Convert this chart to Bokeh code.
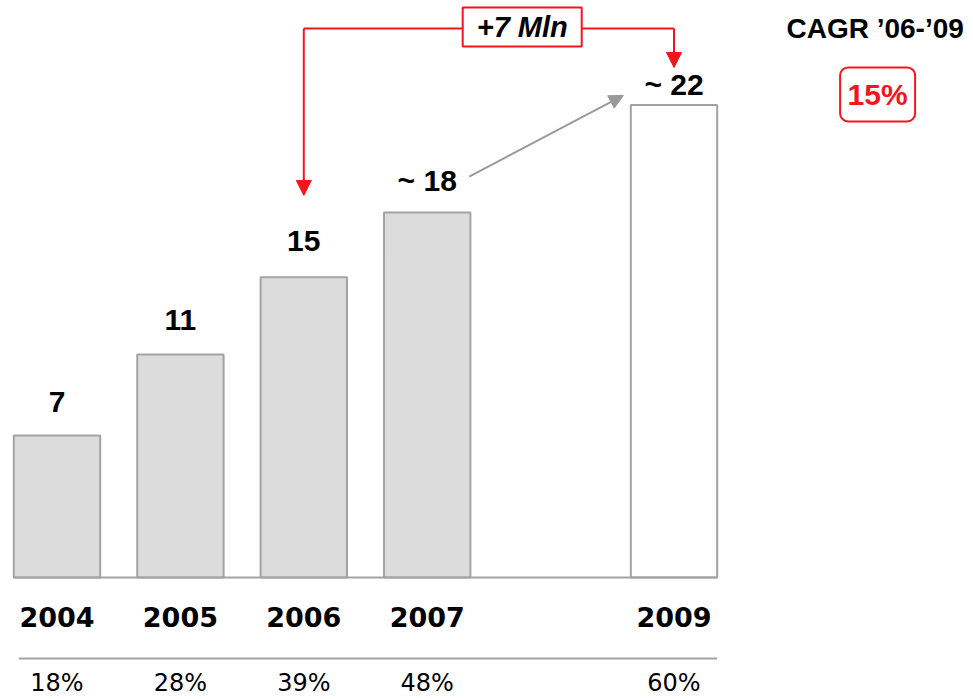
from bokeh.plotting import figure
from bokeh.models import Range1d, Arrow, NormalHead, ColumnDataSource
from bokeh.core.properties import value
from bokeh.embed import file_html
from bokeh.resources import INLINE

# ---- data ----
years = [2004, 2005, 2006, 2007, 2009]
year_labels = ["2004", "2005", "2006", "2007", "2009"]
market = [7, 11, 14.8, 18, 23.3]
value_labels = ["7", "11", "15", "~ 18", "~ 22"]
share_labels = ["18%", "28%", "39%", "48%", "60%"]
estimated = [False, False, False, False, True]
cagr_title = "CAGR \u201906-\u201909"
cagr_value = "15%"
delta_label = "+7 Mln"

# ---- styles ----
RED = "#f5141b"
GREY = "#a3a3a3"
BAR_FILL = "#dcdcdc"
bar_w = 0.70
px_per_year = 123.4
px_per_unit = 20.28

src = ColumnDataSource(dict(
    x=years,
    top=market,
    vlabel=value_labels,
    ylabel=year_labels,
    share=share_labels,
    fill=["#ffffff" if e else BAR_FILL for e in estimated],
    voff=[-34, -34, -36, -32, -20],
))

x0 = years[0] - 56.5 / px_per_year
y0 = -(699 - 577) / px_per_unit
p = figure(width=973, height=699,
           x_range=Range1d(x0, x0 + 973 / px_per_year),
           y_range=Range1d(y0, y0 + 699 / px_per_unit),
           output_backend="svg", toolbar_location=None,
           x_axis_location=None, y_axis_location=None,
           min_border=0)
p.grid.visible = False
p.outline_line_color = None
p.background_fill_color = "white"
p.border_fill_color = "white"

# bars
p.vbar(x="x", top="top", bottom=0, width=bar_w, fill_color="fill",
       line_color=GREY, line_width=2, source=src)
# baseline
left = years[0] - bar_w / 2
right = years[-1] + bar_w / 2
p.segment(x0=left, y0=0, x1=right, y1=0, line_color=GREY, line_width=2)
# separator under year labels
p.segment(x0=left + 0.04, y0=-4.0, x1=right, y1=-4.0, line_color=GREY, line_width=2)

# value labels
p.text(x="x", y="top", text="vlabel", y_offset="voff", source=src,
       text_align="center", text_baseline="middle",
       text_font=value("Liberation Sans"), text_font_style="bold",
       text_font_size="30px", text_color="black")
# year labels
p.text(x="x", y=0, text="ylabel", y_offset=39, source=src,
       text_align="center", text_baseline="middle",
       text_font=value("DejaVu Sans"), text_font_style="bold",
       text_font_size="27px", text_color="black")
# share labels
p.text(x="x", y=0, text="share", y_offset=105, source=src,
       text_align="center", text_baseline="middle",
       text_font=value("DejaVu Sans"), text_font_style="normal",
       text_font_size="24px", text_color="black")

# red "+7 Mln" connector 2006 -> 2009
top_y = 27.07
tip_a = market[2] + 4.04
tip_b = market[4] + 1.85
p.line(x=[years[2], years[4]], y=[top_y, top_y], line_color=RED, line_width=2)
for xx, tip in [(years[2], tip_a), (years[4], tip_b)]:
    p.add_layout(Arrow(end=NormalHead(size=15, fill_color=RED, line_color=RED),
                       x_start=xx, y_start=top_y, x_end=xx, y_end=tip,
                       line_color=RED, line_width=2))
box_x = years[2] + 0.59 * (years[4] - years[2])
p.rect(x=[box_x], y=[top_y + 0.07], width=119, height=39,
       width_units="screen", height_units="screen",
       fill_color="white", line_color=RED, line_width=2)
p.text(x=[box_x], y=[top_y + 0.07], text=[delta_label],
       text_align="center", text_baseline="middle",
       text_font=value("Liberation Sans"), text_font_style="bold italic",
       text_font_size="29px", text_color="black")

# grey trend arrow 2007 -> 2009
p.add_layout(Arrow(end=NormalHead(size=14, fill_color="#9a9a9a", line_color="#9a9a9a"),
                   x_start=years[3] + 0.34, y_start=market[3] + 1.77,
                   x_end=years[4] - 0.41, y_end=market[4] + 0.47,
                   line_color="#9a9a9a", line_width=2))

# CAGR box
cagr_x = years[4] + 1.63
p.text(x=[cagr_x], y=[top_y], text=[cagr_title],
       text_align="center", text_baseline="middle",
       text_font=value("Liberation Sans"), text_font_style="bold",
       text_font_size="28px", text_color="black")
box_kwargs = dict(x=[cagr_x + 0.02], y=[23.82], width=75, height=54,
                  width_units="screen", height_units="screen",
                  fill_color="white", line_color=RED, line_width=2)
try:
    p.rect(border_radius=8, **box_kwargs)
except Exception:
    p.rect(**box_kwargs)
p.text(x=[cagr_x + 0.02], y=[23.82], text=[cagr_value],
       text_align="center", text_baseline="middle",
       text_font=value("Liberation Sans"), text_font_style="bold",
       text_font_size="30px", text_color=RED)

open("out.html", "w").write(file_html(p, INLINE))
